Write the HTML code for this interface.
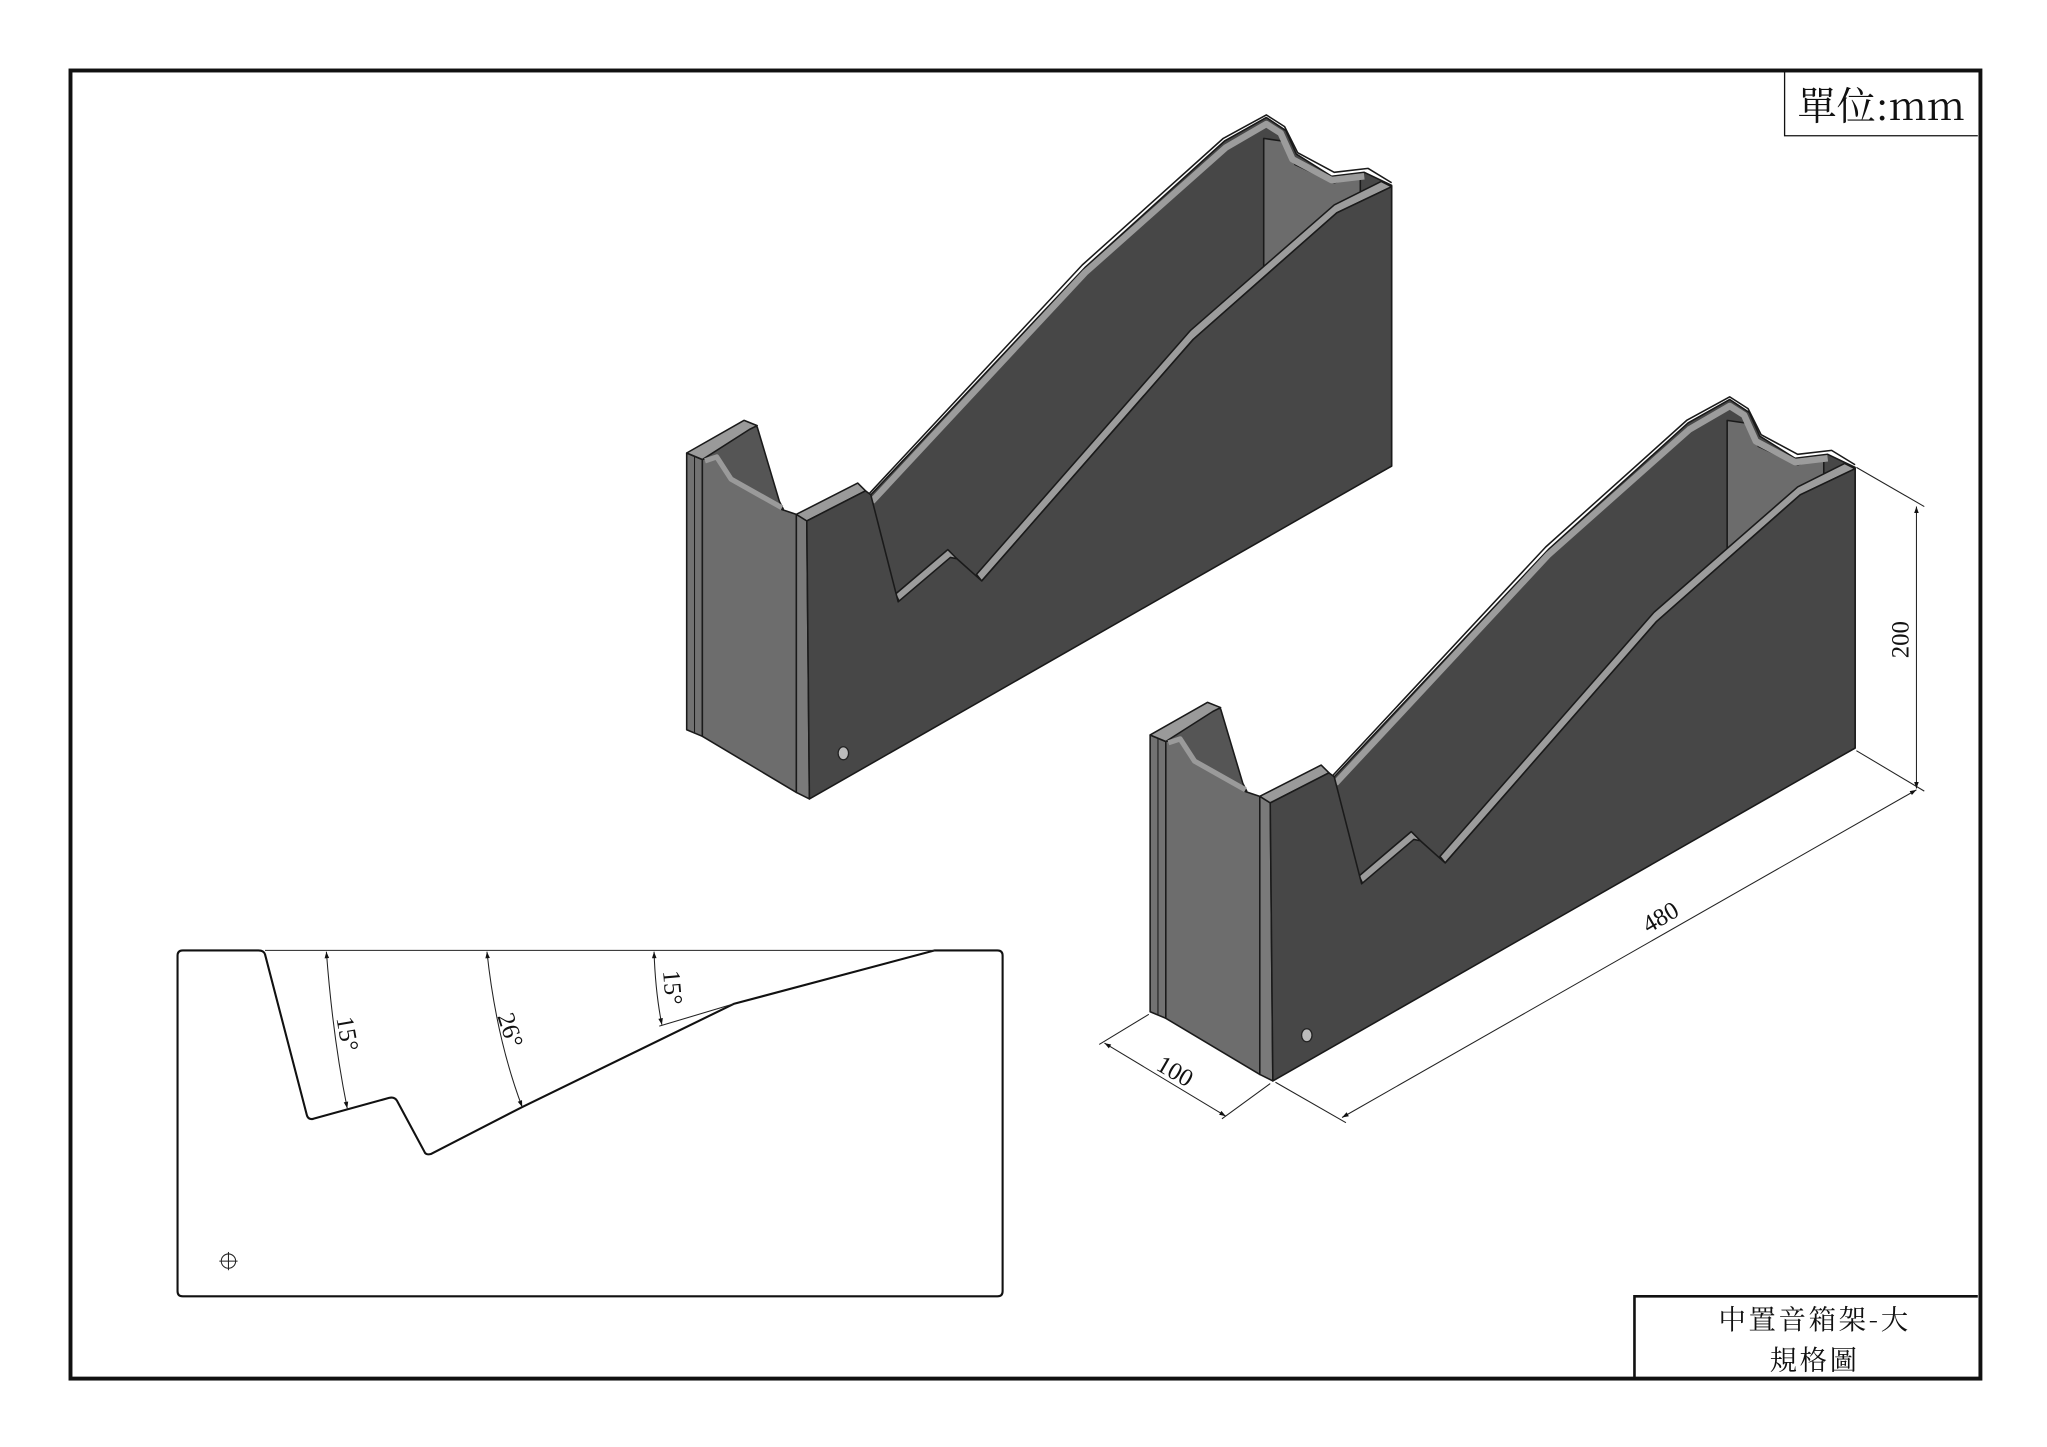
<!DOCTYPE html>
<html><head><meta charset="utf-8"><style>
html,body{margin:0;padding:0;background:#fff;}
svg{display:block;}
text{font-family:"Liberation Serif","Noto Serif CJK SC","Noto Sans CJK TC",serif;fill:#111;}
.cjk{font-family:"Noto Serif CJK SC","Liberation Serif",serif;}
</style></head><body>
<svg width="2047" height="1447" viewBox="0 0 1568 1108.4" preserveAspectRatio="none" xmlns="http://www.w3.org/2000/svg">
<defs>
<marker id="ar" viewBox="0 0 10 10" refX="10" refY="5" markerWidth="9" markerHeight="5" orient="auto-start-reverse" markerUnits="userSpaceOnUse">
<path d="M0,1.5 L10,5 L0,8.5 Z" fill="#111"/></marker>
<g id="box" stroke="#1a1a1a" stroke-width="1.2" stroke-linejoin="round">
  <polygon points="667,379 831,205 938,108 970,90 985,100 993,118 1020,135 1045,132 1066,142 1066,357 700,560 667,470" fill="#474747"/>
  <polygon points="968,106 982,108 992,126 1022,140 1042,134 1042,240 968,240" fill="#6c6c6c"/>
  <polyline points="668,384 831,209 939,113 970,95 981,102 990,122 1020,138 1045,135" fill="none" stroke="#9c9c9c" stroke-width="5"/>
  <polyline points="665,379 829,203 937,106 970,88 984,97 994,117 1022,132 1048,129 1066,140" fill="none" stroke="#1a1a1a" stroke-width="1.2"/>
  <!-- end panel inner face (fills the U) -->
  <polygon points="538,352 570,324 580,327 597,384 600,390 560,368 549,350" fill="#555"/>
  <polygon points="526,347 538,352 538,564 526,559" fill="#727272"/>
  <polygon points="538,352 549,350 560,368 598,390 610,394 610,607 538,564" fill="#6d6d6d"/>
  <polygon points="526,347 570,322 580,326 574,329 538,352" fill="#9a9a9a"/>
  <polyline points="540,353 549,350 560,367 599,389" fill="none" stroke="#9a9a9a" stroke-width="4"/>
  <line x1="532" y1="350" x2="532" y2="561" stroke-width="0.8"/>
  <polygon points="610,394 618,399 620,612 610,607" fill="#7a7a7a"/>
  <polygon points="610,394 657,370 663,376 618,399" fill="#9a9a9a"/>
  <polygon points="686,455 726,421 733,428 690,463" fill="#9c9c9c"/>
  <polygon points="748,440 912,253 1022,157 1058,139 1066,143 1024,163 914,260 752,445" fill="#9c9c9c"/>
  <polygon points="618,399 663,376 667,379 688,461 728,427 733,428 752,445 914,260 1024,163 1066,143 1066,357 620,612" fill="#474747"/>
  <ellipse cx="646" cy="577" rx="4" ry="5" fill="#bbb" stroke="#222" stroke-width="1"/>
</g>
</defs>

<rect x="54" y="54" width="1463" height="1002" fill="none" stroke="#111" stroke-width="3"/>
<polyline points="1367,54 1367,104 1515,104" fill="none" stroke="#111" stroke-width="1"/>
<text x="1441" y="92" font-size="30" text-anchor="middle" class="cjk">單位:mm</text>
<polyline points="1252,1056 1252,993 1515,993" fill="none" stroke="#111" stroke-width="2"/>
<text x="1390" y="1018" font-size="21" text-anchor="middle" letter-spacing="2" class="cjk">中置音箱架-大</text>
<text x="1390" y="1049" font-size="21" text-anchor="middle" letter-spacing="2" class="cjk">規格圖</text>

<use href="#box"/>
<use href="#box" transform="translate(355,216)"/>

<g stroke="#222" stroke-width="0.8" fill="none">
  <line x1="1422" y1="358" x2="1474" y2="388"/>
  <line x1="1422" y1="575" x2="1474" y2="606"/>
  <line x1="1468" y1="388" x2="1468" y2="604" marker-start="url(#ar)" marker-end="url(#ar)"/>
  <line x1="977" y1="829" x2="1031" y2="860"/>
  <line x1="1028" y1="856" x2="1468" y2="605" marker-start="url(#ar)" marker-end="url(#ar)"/>
  <line x1="880" y1="777" x2="842" y2="800"/>
  <line x1="973" y1="830" x2="936" y2="857"/>
  <line x1="846" y1="799" x2="939" y2="855" marker-start="url(#ar)" marker-end="url(#ar)"/>
</g>
<text transform="translate(1462,490) rotate(-90)" font-size="19" text-anchor="middle">200</text>
<text transform="translate(1275,708) rotate(-30)" font-size="19" text-anchor="middle">480</text>
<text transform="translate(897,826) rotate(30)" font-size="19" text-anchor="middle">100</text>

<g fill="none" stroke="#111" stroke-width="1.6" stroke-linejoin="round">
  <path d="M198,728 L140,728 Q136,728 136,732 L136,989 Q136,993 140,993 L764,993 Q768,993 768,989 L768,732 Q768,728 764,728 L716,728 L562,769 L400,848 L330,884 Q326,885 325,882 L304,843 Q302,840 298,841 L240,857 Q236,858 235,854 L203,731 Q202,728 198,728"/>
</g>
<g fill="none" stroke="#222" stroke-width="0.8">
  <line x1="203" y1="728" x2="716" y2="728"/>
  <path d="M250,729 Q255,795 266,849" marker-start="url(#ar)" marker-end="url(#ar)"/>
  <path d="M373,729 Q380,795 400,848" marker-start="url(#ar)" marker-end="url(#ar)"/>
  <path d="M501,729 Q502,760 507,785" marker-start="url(#ar)" marker-end="url(#ar)"/>
  <line x1="505" y1="786" x2="562" y2="769"/>
  <circle cx="175" cy="966" r="5.5"/>
  <line x1="168" y1="966" x2="182" y2="966"/>
  <line x1="175" y1="959" x2="175" y2="973"/>
</g>
<text transform="translate(260,793) rotate(80)" font-size="19" text-anchor="middle">15°</text>
<text transform="translate(385,791) rotate(72)" font-size="19" text-anchor="middle">26°</text>
<text transform="translate(509,757) rotate(85)" font-size="19" text-anchor="middle">15°</text>
</svg>
</body></html>
